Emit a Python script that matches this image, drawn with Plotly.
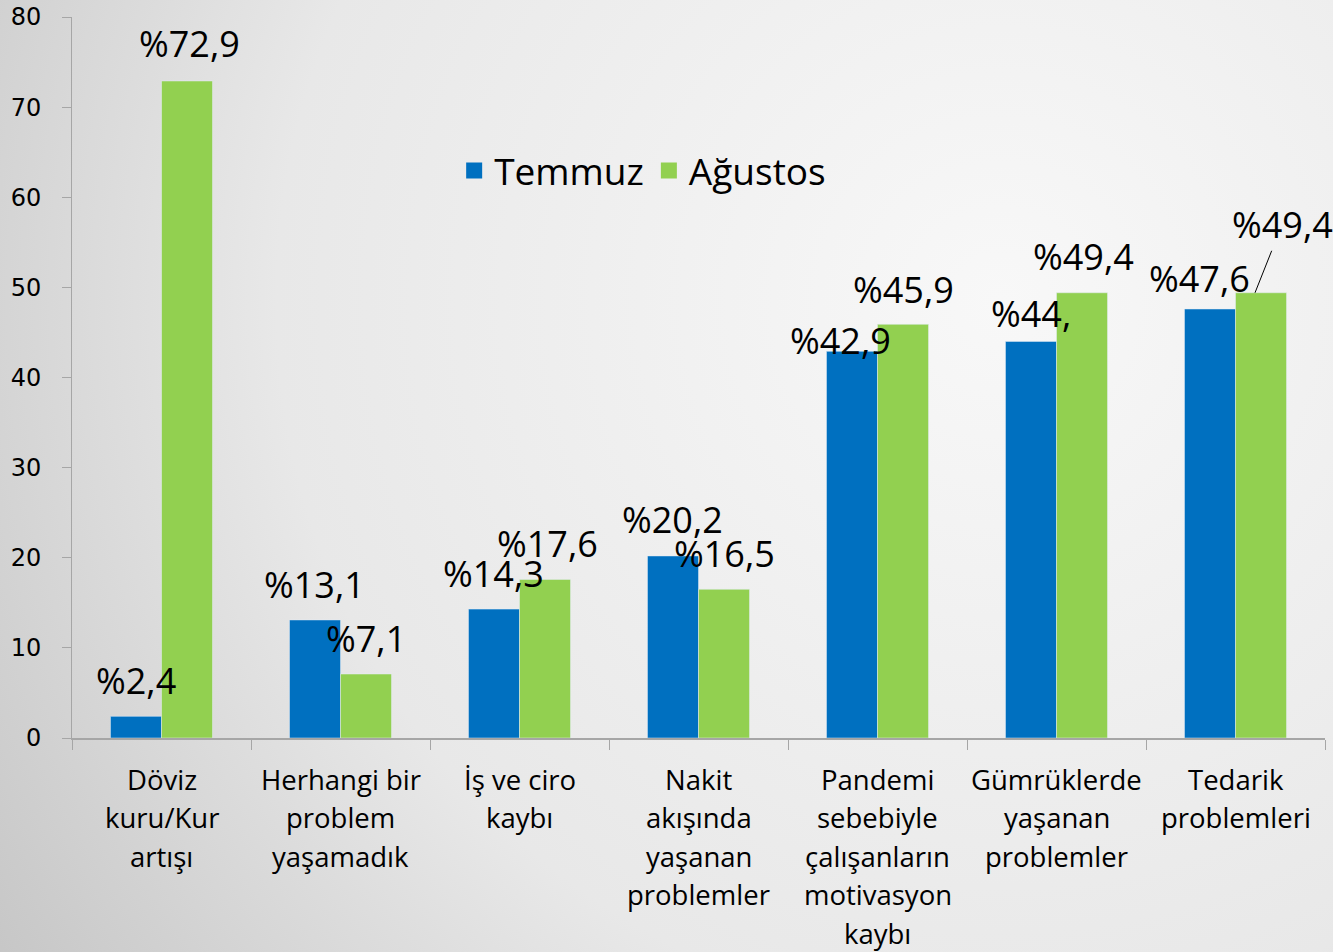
import base64
import plotly.graph_objects as go

categories = [
    "Döviz<br>kuru/Kur<br>artışı",
    "Herhangi bir<br>problem<br>yaşamadık",
    "İş ve ciro<br>kaybı",
    "Nakit<br>akışında<br>yaşanan<br>problemler",
    "Pandemi<br>sebebiyle<br>çalışanların<br>motivasyon<br>kaybı",
    "Gümrüklerde<br>yaşanan<br>problemler",
    "Tedarik<br>problemleri",
]
temmuz = [2.4, 13.1, 14.3, 20.2, 42.9, 44.0, 47.6]
agustos = [72.9, 7.1, 17.6, 16.5, 45.9, 49.4, 49.4]
temmuz_labels = ["%2,4", "%13,1", "%14,3", "%20,2", "%42,9", "%44,", "%47,6"]
agustos_labels = ["%72,9", "%7,1", "%17,6", "%16,5", "%45,9", "%49,4", "%49,4"]
yticks = [0, 10, 20, 30, 40, 50, 60, 70, 80]

BLUE = "#0070C0"
GREEN = "#92D050"
W, H = 1333, 952
ML, MR, MT, MB = 72, 8, 17, 214
PW, PH = W - ML - MR, H - MT - MB

# label offsets (px) relative to bar center / bar top
t_dx = [0, 0, 0, 0, -11, 0, -10]
t_dy = [36, 35, 36, 36, 11, 28, 31]
a_dx = [2, 0, 2, 0, 0, 1, 0]
a_dy = [37, 36, 36, 36, 35, 36, 0]

fig = go.Figure()
fig.add_trace(go.Bar(x=categories, y=temmuz, marker_color=BLUE, name="Temmuz", showlegend=False))
fig.add_trace(go.Bar(x=categories, y=agustos, marker_color=GREEN, name="Ağustos", showlegend=False))
fig.add_trace(go.Scatter(x=[None], y=[None], mode="markers", name="Temmuz",
                         marker=dict(symbol="square", size=22, color=BLUE)))
fig.add_trace(go.Scatter(x=[None], y=[None], mode="markers", name="Ağustos",
                         marker=dict(symbol="square", size=22, color=GREEN)))

half = (PW / 7) * 0.57 / 4
LF = dict(family="Open Sans, sans-serif", size=36, color="#000000")
CF = dict(family="Open Sans, sans-serif", size=27.5, color="#000000")
anns = []
for i, c in enumerate(categories):
    anns.append(dict(x=c, y=temmuz[i], text=temmuz_labels[i], showarrow=False,
                     xanchor="center", yanchor="middle",
                     xshift=-half + t_dx[i], yshift=t_dy[i], font=LF))
    if i < 6:
        anns.append(dict(x=c, y=agustos[i], text=agustos_labels[i], showarrow=False,
                         xanchor="center", yanchor="middle",
                         xshift=half + a_dx[i], yshift=a_dy[i], font=LF))
    else:
        anns.append(dict(x=c, y=agustos[i], text=agustos_labels[i], showarrow=True,
                         arrowhead=0, arrowwidth=1, arrowcolor="#000000", standoff=0,
                         ax=27, ay=-68, xanchor="center", yanchor="middle",
                         xshift=half - 6, font=LF))
    # category label, one line per annotation for Excel-like line spacing
    for j, line in enumerate(c.split("<br>")):
        anns.append(dict(x=c, xref="x", y=0, yref="paper", text=line, showarrow=False,
                         xanchor="center", yanchor="middle", borderpad=0,
                         yshift=-(41 + 38.5 * j), font=CF))

svg = f'''<svg xmlns="http://www.w3.org/2000/svg" width="{W}" height="{H}">
<defs><radialGradient id="g" gradientUnits="userSpaceOnUse" cx="1000" cy="300" r="1205">
<stop offset="0" stop-color="#F8F8F8"/><stop offset="0.6" stop-color="#E8E8E8"/>
<stop offset="1" stop-color="#C6C6C6"/></radialGradient></defs>
<rect width="{W}" height="{H}" fill="url(#g)"/></svg>'''
src = "data:image/svg+xml;base64," + base64.b64encode(svg.encode()).decode()

fig.update_layout(
    width=W, height=H,
    margin=dict(l=ML, r=MR, t=MT, b=MB, pad=0, autoexpand=False),
    paper_bgcolor="#E4E4E4", plot_bgcolor="rgba(0,0,0,0)",
    barmode="group", bargap=0.43, bargroupgap=0,
    annotations=anns,
    images=[dict(source=src, xref="paper", yref="paper",
                 x=-ML / PW, y=1 + MT / PH, sizex=W / PW, sizey=H / PH,
                 xanchor="left", yanchor="top", sizing="stretch", layer="below")],
    legend=dict(orientation="h", x=0.305, y=(738 - 171) / PH, xanchor="left", yanchor="middle",
                font=dict(family="Open Sans, sans-serif", size=37, color="#000000"),
                bgcolor="rgba(0,0,0,0)", itemsizing="trace"),
    xaxis=dict(type="category", range=[-0.5, 6.5], showline=True, linecolor="#A6A6A6", linewidth=2,
               ticks="outside", ticklen=10, tickcolor="#A6A6A6", tickwidth=1,
               tickson="boundaries", showgrid=False, showticklabels=False, automargin=False),
    yaxis=dict(range=[0, 80], tickvals=yticks, showline=True, linecolor="#A6A6A6", linewidth=1,
               ticks="outside", ticklen=9, tickcolor="#A6A6A6", showgrid=False, zeroline=False,
               ticklabelstandoff=16, automargin=False,
               tickfont=dict(family="DejaVu Sans, sans-serif", size=24, color="#000000")),
)
post = ("document.body.style.margin='0';document.body.style.overflow='hidden';"
        "var d=document.getElementById('{plot_id}');"
        "d.style.position='absolute';d.style.left='0px';d.style.top='0px';")
fig.write_html("out.html", post_script=post, config={"displayModeBar": False})
